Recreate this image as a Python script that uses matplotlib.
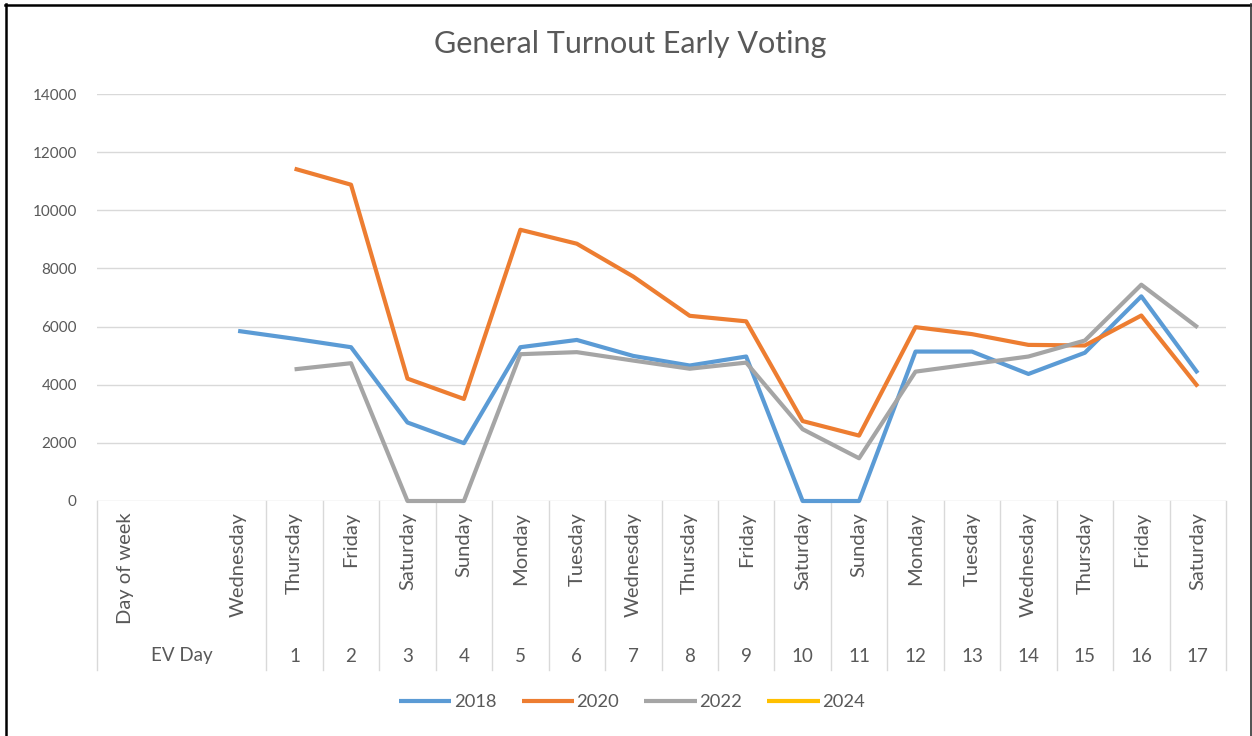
import numpy as np
import matplotlib
matplotlib.use("Agg")
import matplotlib.pyplot as plt
from matplotlib.lines import Line2D

plt.rcParams['font.family'] = ['Lato', 'DejaVu Sans']

# ---------------- data ----------------
day_of_week = ["Day of week", "", "Wednesday", "Thursday", "Friday", "Saturday", "Sunday",
               "Monday", "Tuesday", "Wednesday", "Thursday", "Friday", "Saturday", "Sunday",
               "Monday", "Tuesday", "Wednesday", "Thursday", "Friday", "Saturday"]
ev_day = ["", "", "", "1", "2", "3", "4", "5", "6", "7", "8", "9", "10", "11",
          "12", "13", "14", "15", "16", "17"]
ev_group_label = "EV Day"
nan = np.nan
s2018 = [nan, nan, 5850, 5580, 5290, 2700, 1990, 5290, 5540, 4990, 4660, 4970,
         0, 0, 5140, 5140, 4370, 5100, 7040, 4400]
s2020 = [nan, nan, nan, 11430, 10880, 4210, 3510, 9330, 8850, 7720, 6370, 6180,
         2750, 2250, 5980, 5740, 5370, 5350, 6380, 3940]
s2022 = [nan, nan, nan, 4530, 4740, 0, 0, 5050, 5120, 4830, 4550, 4760,
         2470, 1470, 4450, 4710, 4970, 5520, 7440, 5970]
s2024 = [nan] * 20
series_names = ["2018", "2020", "2022", "2024"]
series_values = [s2018, s2020, s2022, s2024]
series_colors = ["#5B9BD5", "#ED7D31", "#A5A5A5", "#FFC000"]
y_ticks = [0, 2000, 4000, 6000, 8000, 10000, 12000, 14000]
title = "General Turnout Early Voting"

# ---------------- figure ----------------
W, H = 1252, 736
fig = plt.figure(figsize=(W / 100, H / 100), dpi=100)
fig.patch.set_facecolor("white")

ax_l, ax_r, ax_t, ax_b = 97, 1226, 94, 501
ax = fig.add_axes([ax_l / W, 1 - ax_b / H, (ax_r - ax_l) / W, (ax_b - ax_t) / H])
ax.set_facecolor("white")
n = len(day_of_week)
x = np.arange(n)
ax.set_xlim(-0.5, n - 0.5)
ax.set_ylim(0, 14000)
ax.set_yticks(y_ticks)
ax.set_yticklabels([str(v) for v in y_ticks])
ax.tick_params(axis="y", length=0, pad=14.5, labelsize=11, labelcolor="#595959")
ax.set_xticks([])
for s in ax.spines.values():
    s.set_visible(False)
ax.yaxis.grid(True, color="#D9D9D9", linewidth=1.0)
ax.set_axisbelow(True)

handles = []
for name, vals, col in zip(series_names, series_values, series_colors):
    h, = ax.plot(x, vals, color=col, linewidth=3.0, solid_joinstyle="round",
                 solid_capstyle="butt", label=name, clip_on=False, zorder=3)
    handles.append(h)

# category axis table
ph = ax_b - ax_t
def yfrac(ypix):
    return -(ypix - ax_b) / ph
trans = ax.get_xaxis_transform()
bottom_line = yfrac(670)
bounds = [-0.5] + [i + 0.5 for i in range(2, n)]
for b in bounds:
    ax.plot([b, b], [0, bottom_line], color="#D9D9D9", linewidth=1.0,
            transform=trans, clip_on=False, zorder=1)
for i, lab in enumerate(day_of_week):
    if lab:
        ax.text(i, yfrac(512), lab, rotation=90, ha="center", va="top",
                transform=trans, fontsize=14.5, color="#595959")
for i, lab in enumerate(ev_day):
    if lab:
        ax.text(i, yfrac(656), lab, ha="center", va="center",
                transform=trans, fontsize=13.5, color="#595959")
ax.text(1, yfrac(656), ev_group_label, ha="center", va="center",
        transform=trans, fontsize=13.5, color="#595959")

# title
fig.text(630 / W, 1 - 44 / H, title, ha="center", va="center",
         fontsize=22, color="#595959")

# legend
leg = fig.legend(handles=handles, labels=series_names, loc="center",
                 bbox_to_anchor=(632 / W, 1 - 702 / H), ncol=4, frameon=False,
                 fontsize=13.2, handlelength=2.85, handletextpad=0.15,
                 columnspacing=1.37)
for t in leg.get_texts():
    t.set_color("#595959")

# outer border
fig.add_artist(Line2D([6 / W, 6 / W], [0, 1 - 3.5 / H], color="black", linewidth=1.8,
                      transform=fig.transFigure))
fig.add_artist(Line2D([5 / W, 1251 / W], [1 - 4.5 / H, 1 - 4.5 / H], color="black",
                      linewidth=1.8, transform=fig.transFigure))
fig.add_artist(Line2D([1250.5 / W, 1250.5 / W], [0, 1 - 3.5 / H], color="#333333",
                      linewidth=1.2, transform=fig.transFigure))

fig.savefig("out.png", dpi=100, facecolor="white")
